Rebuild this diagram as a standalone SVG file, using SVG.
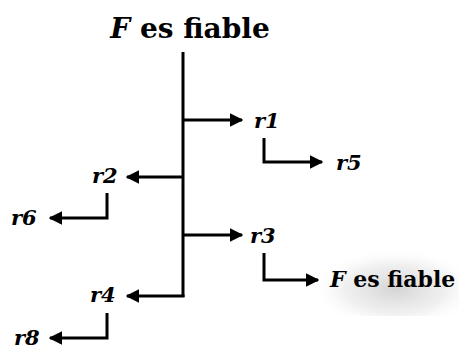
<svg xmlns="http://www.w3.org/2000/svg" width="459" height="352" viewBox="0 0 459 352">
<defs>
<style>
.c{fill:none;stroke:#000;stroke-width:3;stroke-linejoin:miter}
.l{font-family:"DejaVu Serif","Liberation Serif",serif;font-weight:bold;font-style:italic;font-size:21px;fill:#000}
.t{font-family:"DejaVu Serif","Liberation Serif",serif;font-weight:bold;fill:#000}
</style>
<marker id="a" viewBox="0 0 10 10" refX="9" refY="5" markerWidth="4.5" markerHeight="4.5" markerUnits="strokeWidth" orient="auto">
<path d="M0,0 L10,5 L0,10 Z" fill="#000"/>
</marker>
<radialGradient id="g" cx="0.55" cy="0.6" r="0.6">
<stop offset="0" stop-color="#cfcfcf" stop-opacity="0.9"/>
<stop offset="0.6" stop-color="#e6e6e6" stop-opacity="0.6"/>
<stop offset="1" stop-color="#ffffff" stop-opacity="0"/>
</radialGradient>
</defs>
<rect x="318" y="248" width="141" height="68" fill="url(#g)"/>
<g id="root"><text class="t" x="190" y="38" text-anchor="middle" font-size="28"><tspan font-style="italic">F</tspan> es fiable</text></g>
<g id="r1"><text class="l" x="254" y="128">r1</text></g>
<g id="r5"><text class="l" x="336" y="170">r5</text></g>
<g id="r2"><text class="l" x="92" y="183">r2</text></g>
<g id="r6"><text class="l" x="11" y="225">r6</text></g>
<g id="r3"><text class="l" x="250" y="243">r3</text></g>
<g id="fin"><text class="t" x="330" y="287" font-size="22"><tspan font-style="italic">F</tspan> es fiable</text></g>
<g id="r4"><text class="l" x="90" y="302">r4</text></g>
<g id="r8"><text class="l" x="14" y="345">r8</text></g>
<g id="connectors">
<path class="c" d="M183,52 V297"/>
<path class="c" d="M183,120 H242" marker-end="url(#a)"/>
<path class="c" d="M183,177 H127" marker-end="url(#a)"/>
<path class="c" d="M183,235 H242" marker-end="url(#a)"/>
<path class="c" d="M184.5,296 H127" marker-end="url(#a)"/>
<path class="c" d="M264,138 V162 H322" marker-end="url(#a)"/>
<path class="c" d="M107,193 V218 H50" marker-end="url(#a)"/>
<path class="c" d="M264,253 V280 H318" marker-end="url(#a)"/>
<path class="c" d="M107,313 V338 H50" marker-end="url(#a)"/>
</g>
</svg>
